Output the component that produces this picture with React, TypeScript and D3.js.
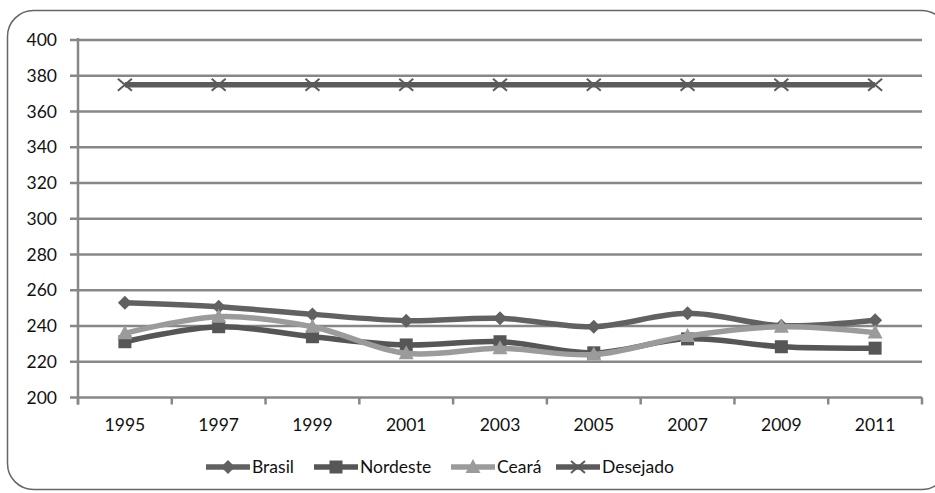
import * as d3 from 'd3';

const years = ['1995', '1997', '1999', '2001', '2003', '2005', '2007', '2009', '2011'];
const brasil = [253, 250.8, 246.5, 243, 244.3, 239.6, 247.1, 240.2, 243.2];
const nordeste = [231.2, 239.6, 234, 229.4, 231.2, 225, 232.8, 228.4, 227.6];
const ceara = [235.9, 245.2, 239.6, 224.7, 227.5, 224, 234.4, 239.6, 236.3];
const desejado = [375, 375, 375, 375, 375, 375, 375, 375, 375];
const yTicks = [200, 220, 240, 260, 280, 300, 320, 340, 360, 380, 400];

const W = 935;
const H = 493;
const M = { left: 78, right: 13, top: 40, bottom: 95.5 };
const FONT = 'Lato, "Open Sans", sans-serif';
const AXIS = '#878787';
const FS = 17.5;

type Marker = 'diamond' | 'square' | 'triangle' | 'x';

const series: { name: string; values: number[]; color: string; marker: Marker }[] = [
  { name: 'Brasil', values: brasil, color: '#616161', marker: 'diamond' },
  { name: 'Nordeste', values: nordeste, color: '#565656', marker: 'square' },
  { name: 'Ceará', values: ceara, color: '#9b9b9b', marker: 'triangle' },
  { name: 'Desejado', values: desejado, color: '#5b5b5b', marker: 'x' },
];

function MarkerShape({ kind, x, y, color }: { kind: Marker; x: number; y: number; color: string }) {
  if (kind === 'diamond') {
    return <path d={`M${x},${y - 7} L${x + 7},${y} L${x},${y + 7} L${x - 7},${y} Z`} fill={color} />;
  }
  if (kind === 'square') {
    return <rect x={x - 6.5} y={y - 6.5} width={13} height={13} fill={color} />;
  }
  if (kind === 'triangle') {
    return <path d={`M${x},${y - 8} L${x + 7.5},${y + 6} L${x - 7.5},${y + 6} Z`} fill={color} />;
  }
  return (
    <path
      d={`M${x - 7},${y - 6} L${x + 7},${y + 6} M${x - 7},${y + 6} L${x + 7},${y - 6}`}
      stroke={color}
      strokeWidth={2}
      fill="none"
    />
  );
}

export default function App() {
  const x = d3.scaleBand<string>().domain(years).range([M.left, W - M.right]).padding(0);
  const y = d3.scaleLinear().domain([200, 400]).range([H - M.bottom, M.top]);
  const cx = (yr: string) => (x(yr) ?? 0) + x.bandwidth() / 2;

  const line = d3
    .line<number>()
    .x((_, i) => cx(years[i]))
    .y(v => y(v))
    .curve(d3.curveCatmullRom.alpha(0.5));

  const boundaries = years.map(yr => x(yr) ?? 0).concat([W - M.right]);
  const y0 = y(200);

  const legendItems = [
    { s: series[0], x: 206 },
    { s: series[1], x: 314 },
    { s: series[2], x: 451 },
    { s: series[3], x: 556 },
  ];

  return (
    <svg
      width={W}
      height={H}
      style={{ position: 'absolute', left: 0, top: 0, background: '#fff' }}
      fontFamily={FONT}
    >
      <rect x={7.5} y={10.5} width={940} height={479} rx={26} fill="#fff" stroke="#666" strokeWidth={1.5} />

      {/* grid lines */}
      {yTicks.map(t => (
        <g key={t}>
          <line x1={M.left - 8} x2={W - M.right} y1={y(t)} y2={y(t)} stroke={AXIS} strokeWidth={2.5} />
          <text x={57} y={y(t) + 6} textAnchor="end" fontSize={FS} fill="#111">
            {t}
          </text>
        </g>
      ))}

      {/* axes */}
      <line x1={M.left} x2={M.left} y1={M.top - 2} y2={y0 + 7} stroke={AXIS} strokeWidth={2.5} />
      {boundaries.map((b, i) => (
        <line key={i} x1={b} x2={b} y1={y0} y2={y0 + 7} stroke={AXIS} strokeWidth={2.5} />
      ))}
      {years.map(yr => (
        <text key={yr} x={cx(yr)} y={431} textAnchor="middle" fontSize={FS} fill="#111">
          {yr}
        </text>
      ))}

      {/* series */}
      {series.map(s => (
        <g key={s.name}>
          <path d={line(s.values) ?? ''} fill="none" stroke={s.color} strokeWidth={5.5} strokeLinejoin="round" />
          {s.values.map((v, i) => (
            <MarkerShape key={i} kind={s.marker} x={cx(years[i])} y={y(v)} color={s.color} />
          ))}
        </g>
      ))}

      {/* legend */}
      {legendItems.map(({ s, x: lx }) => (
        <g key={s.name}>
          <line x1={lx} x2={lx + 44} y1={467} y2={467} stroke={s.color} strokeWidth={5.5} />
          <MarkerShape kind={s.marker} x={lx + 22} y={467} color={s.color} />
          <text x={lx + 46} y={473} fontSize={FS} fill="#111">
            {s.name}
          </text>
        </g>
      ))}
    </svg>
  );
}
